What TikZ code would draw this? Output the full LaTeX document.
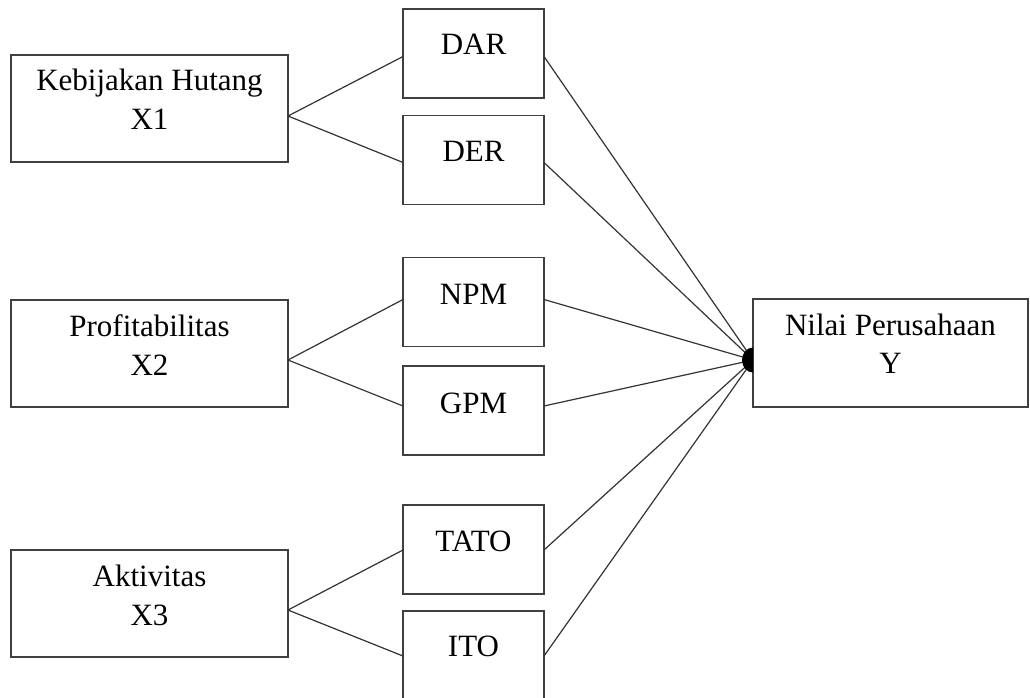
\documentclass[tikz,border=0pt]{standalone}
\usepackage{fontspec}
\setmainfont{Liberation Serif}
\begin{document}
\begin{tikzpicture}[x=1pt,y=-1pt,
  box/.style={draw=black!75, line width=1.5pt, inner sep=0pt, outer sep=0pt, rectangle},
  bigbox/.style={box, minimum width=277pt, minimum height=107pt},
  smallbox/.style={box, minimum width=141pt, minimum height=89pt},
  lbl/.style={anchor=base, inner sep=0pt, font=\fontsize{31}{37}\selectfont, text=black},
  conn/.style={draw=black!80, line width=1.2pt}]
\useasboundingbox[fill=white] (0,0) rectangle (1030,698);

% left boxes
\node[bigbox] (x1) at (149.5,108.5) {};
\node[bigbox] (x2) at (149.5,353.5) {};
\node[bigbox] (x3) at (149.5,603.5) {};
\node[lbl] (x1a) at (149.5,91) {Kebijakan Hutang};
\node[lbl] (x1b) at (149.5,130) {X1};
\node[lbl] (x2a) at (149.5,336) {Profitabilitas};
\node[lbl] (x2b) at (149.5,375) {X2};
\node[lbl] (x3a) at (149.5,586) {Aktivitas};
\node[lbl] (x3b) at (149.5,625) {X3};

% middle boxes
\node[smallbox] (dar) at (473.5,53.5) {};
\node[smallbox] (der) at (473.5,160) {};
\node[smallbox] (npm) at (473.5,302) {};
\node[smallbox] (gpm) at (473.5,410.5) {};
\node[smallbox] (tato) at (473.5,549.5) {};
\node[smallbox] (ito) at (473.5,655.5) {};
\node[lbl] (tdar) at (473.5,55) {DAR};
\node[lbl] (tder) at (473.5,161) {DER};
\node[lbl] (tnpm) at (473.5,304) {NPM};
\node[lbl] (tgpm) at (473.5,413) {GPM};
\node[lbl] (ttato) at (473.5,551) {TATO};
\node[lbl] (tito) at (473.5,656) {ITO};

% right box
\node[box, minimum width=275pt, minimum height=108pt] (yn) at (890.5,353) {};
\node[lbl] (ya) at (890.5,335) {Nilai Perusahaan};
\node[lbl] (yb) at (890.5,373) {Y};

\coordinate (hub) at ([yshift=-7pt]yn.west);

% left connectors
\draw[conn] ([yshift=-7.5pt]x1.east) -- ([yshift=-3pt]dar.west);
\draw[conn] ([yshift=-7.5pt]x1.east) -- ([yshift=-2.5pt]der.west);
\draw[conn] ([yshift=-6.5pt]x2.east) -- ([yshift=2.5pt]npm.west);
\draw[conn] ([yshift=-6.5pt]x2.east) -- ([yshift=4.5pt]gpm.west);
\draw[conn] ([yshift=-6.5pt]x3.east) -- ([yshift=-0.5pt]tato.west);
\draw[conn] ([yshift=-6.5pt]x3.east) -- ([yshift=-0.5pt]ito.west);

% right connectors
\draw[conn] ([yshift=-3pt]dar.east) -- (hub);
\draw[conn] ([yshift=-2.5pt]der.east) -- (hub);
\draw[conn] ([yshift=2.5pt]npm.east) -- (hub);
\draw[conn] ([yshift=4.5pt]gpm.east) -- (hub);
\draw[conn] ([yshift=-0.5pt]tato.east) -- (hub);
\draw[conn] ([yshift=-0.5pt]ito.east) -- (hub);

% arrival dot
\begin{scope}
  \clip ([xshift=-20pt,yshift=20pt]hub) rectangle ([yshift=-20pt]hub);
  \fill[black] (hub) ellipse [x radius=11pt, y radius=12.5pt];
\end{scope}
\end{tikzpicture}
\end{document}
